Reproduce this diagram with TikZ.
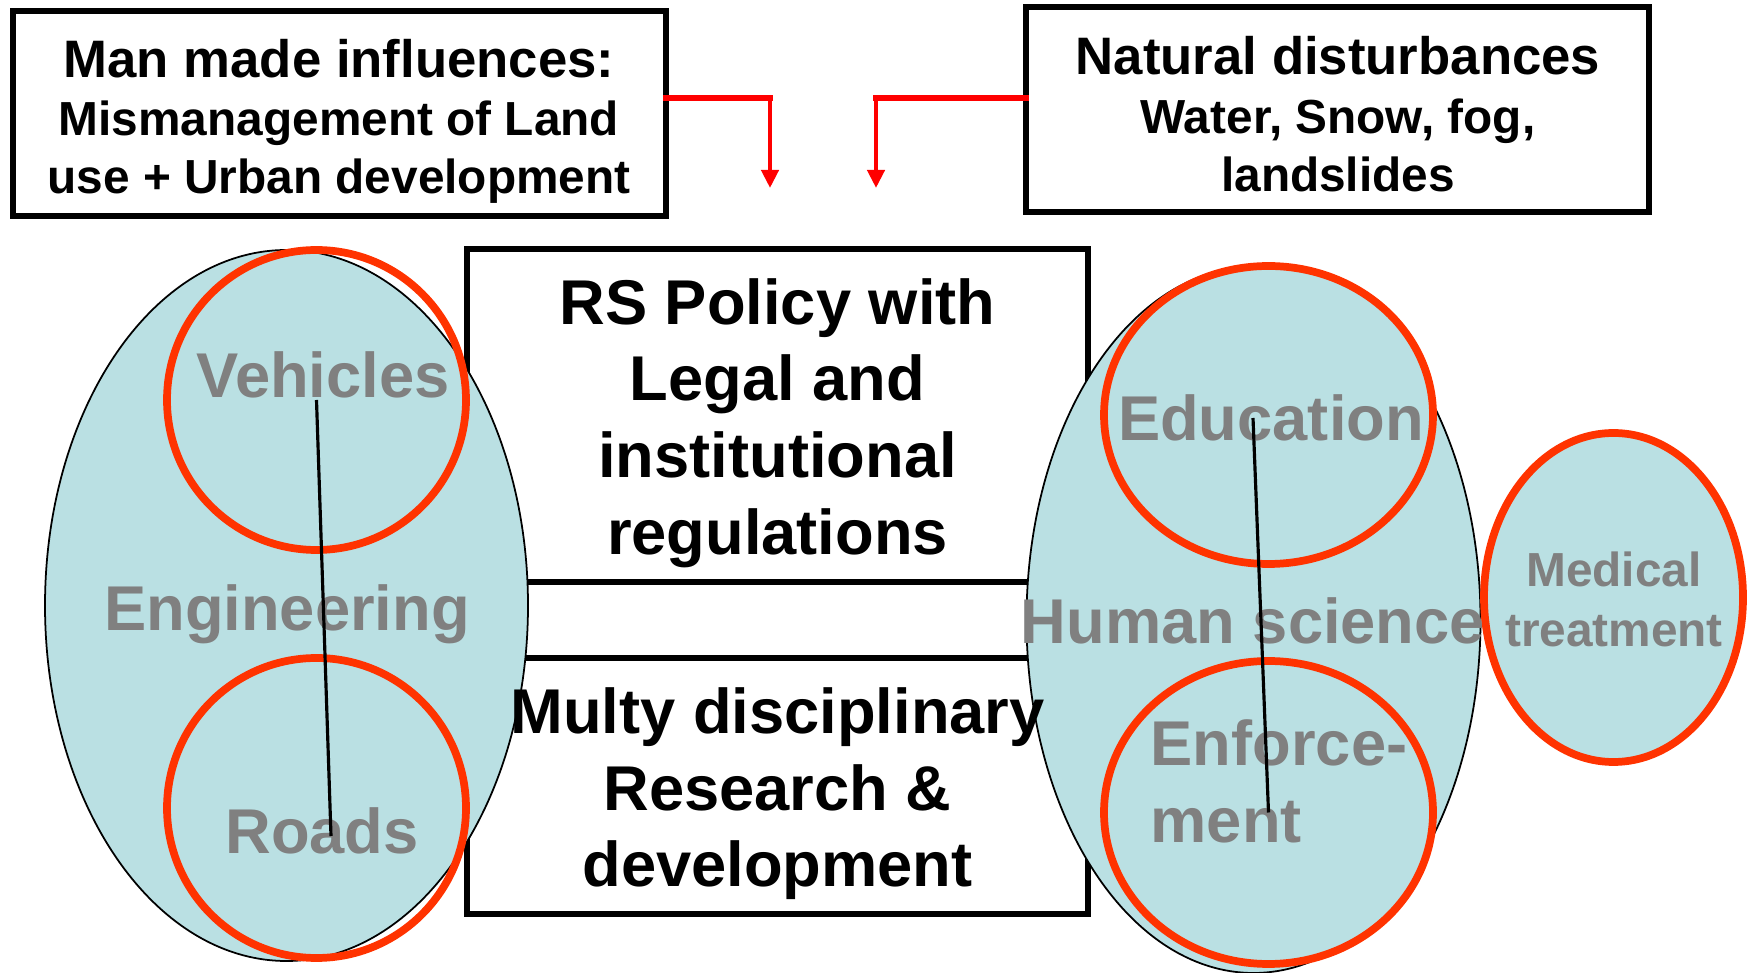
\documentclass[tikz,border=0pt]{standalone}
\usepackage{fontspec}
\setmainfont{Liberation Sans}
\usetikzlibrary{shapes.geometric, arrows.meta}

\definecolor{paleBlue}{RGB}{186,224,227}
\definecolor{ringRed}{RGB}{255,51,0}
\definecolor{labelGray}{RGB}{128,128,128}

\begin{document}
\begin{tikzpicture}[x=0.1mm, y=-0.1mm,
    frame/.style={draw=black, line width=1.5pt, inner sep=0pt, outer sep=0pt},
    field/.style={ellipse, draw=black, line width=0.5pt, fill=paleBlue, inner sep=0pt, outer sep=0pt},
    ring/.style={ellipse, draw=ringRed, line width=2.2pt, inner sep=0pt, outer sep=0pt},
    bigText/.style={font=\bfseries\fontsize{18}{21.8}\selectfont, align=center, inner sep=0pt},
    grayText/.style={bigText, text=labelGray},
    smallText/.style={font=\bfseries\fontsize{13.6}{16.6}\selectfont, align=center, inner sep=0pt},
    feed/.style={red, line width=1.7pt, line cap=rect},
    feedArrow/.style={red, line width=1.2pt, -{Triangle[length=1.8mm, width=1.7mm]}}]

  \useasboundingbox (0,0) rectangle (1748,973);

  \node[frame, minimum width=65.3mm, minimum height=20.5mm] (manBox) at (339.5,113.5) {};
  \node[frame, minimum width=62.3mm, minimum height=20.5mm] (natBox) at (1337.5,109.5) {};
  \node[frame, minimum width=62.1mm, minimum height=33.3mm] (policyBox) at (777.5,415.5) {};
  \node[frame, minimum width=62.1mm, minimum height=25.6mm] (researchBox) at (777.5,786) {};

  \node[field, minimum width=48.3mm, minimum height=71.1mm] (engField) at (286.5,605.5) {};
  \node[field, minimum width=45.4mm, minimum height=70.6mm] (humField) at (1253.5,620) {};

  \node[ring, minimum width=29.9mm, minimum height=30mm] (vehRing) at (316.5,400) {};
  \node[ring, minimum width=29.9mm, minimum height=30mm] (roadRing) at (316.5,808) {};
  \node[ring, fill=paleBlue, minimum width=32.9mm, minimum height=29.8mm] (eduRing) at (1268.5,415) {};
  \node[ring, fill=paleBlue, minimum width=32.9mm, minimum height=30.3mm] (enfRing) at (1268.5,812.5) {};
  \node[ring, fill=paleBlue, minimum width=25.9mm, minimum height=32.9mm] (medRing) at (1613.5,597.5) {};

  \node[grayText, anchor=base] (vehLabel) at (323,398) {Vehicles};
  \node[grayText, anchor=base] (engLabel) at (287,631) {Engineering};
  \node[grayText, anchor=base] (roadLabel) at (322,854) {Roads};
  \node[grayText, anchor=base] (eduLabel) at (1271,441) {Education};
  \node[grayText, anchor=base] (humLabel) at (1253,644) {Human science};
  \node[grayText, align=left, anchor=west] (enfLabel) at (1150,781.5) {Enforce-\\ment};
  \node[grayText, font=\bfseries\fontsize{13.6}{17}\selectfont] (medLabel) at (1614,599.6) {Medical\\treatment};

  \coordinate (engFoot) at (331,836);
  \coordinate (humHead) at (1253,418);
  \draw[line width=0.9pt] (vehRing.center) -- (engFoot);
  \draw[line width=0.9pt] (humHead) -- (enfRing.center);

  \node[bigText] (policyText) at (777.5,423) {RS Policy with\\Legal and\\institutional\\regulations};
  \node[bigText] (researchText) at (777.5,794) {Multy disciplinary\\Research \&\\development};
  \node[smallText] (manText) at (339,121.3)
    {{\fontsize{15}{16.6}\selectfont Man made influences:}\\Mismanagement of Land\\use + Urban development};
  \node[smallText] (natText) at (1338,114.2)
    {{\fontsize{15}{16.6}\selectfont Natural disturbances}\\Water, Snow, fog,\\landslides};

  \coordinate (bendL) at (770,98);
  \coordinate (tipL) at (770,188);
  \coordinate (bendR) at (876,98);
  \coordinate (tipR) at (876,188);
  \draw[feed] (manBox.east |- bendL) -- (bendL);
  \draw[feedArrow] (bendL) -- (tipL);
  \draw[feed] (natBox.west |- bendR) -- (bendR);
  \draw[feedArrow] (bendR) -- (tipR);

\end{tikzpicture}
\end{document}
